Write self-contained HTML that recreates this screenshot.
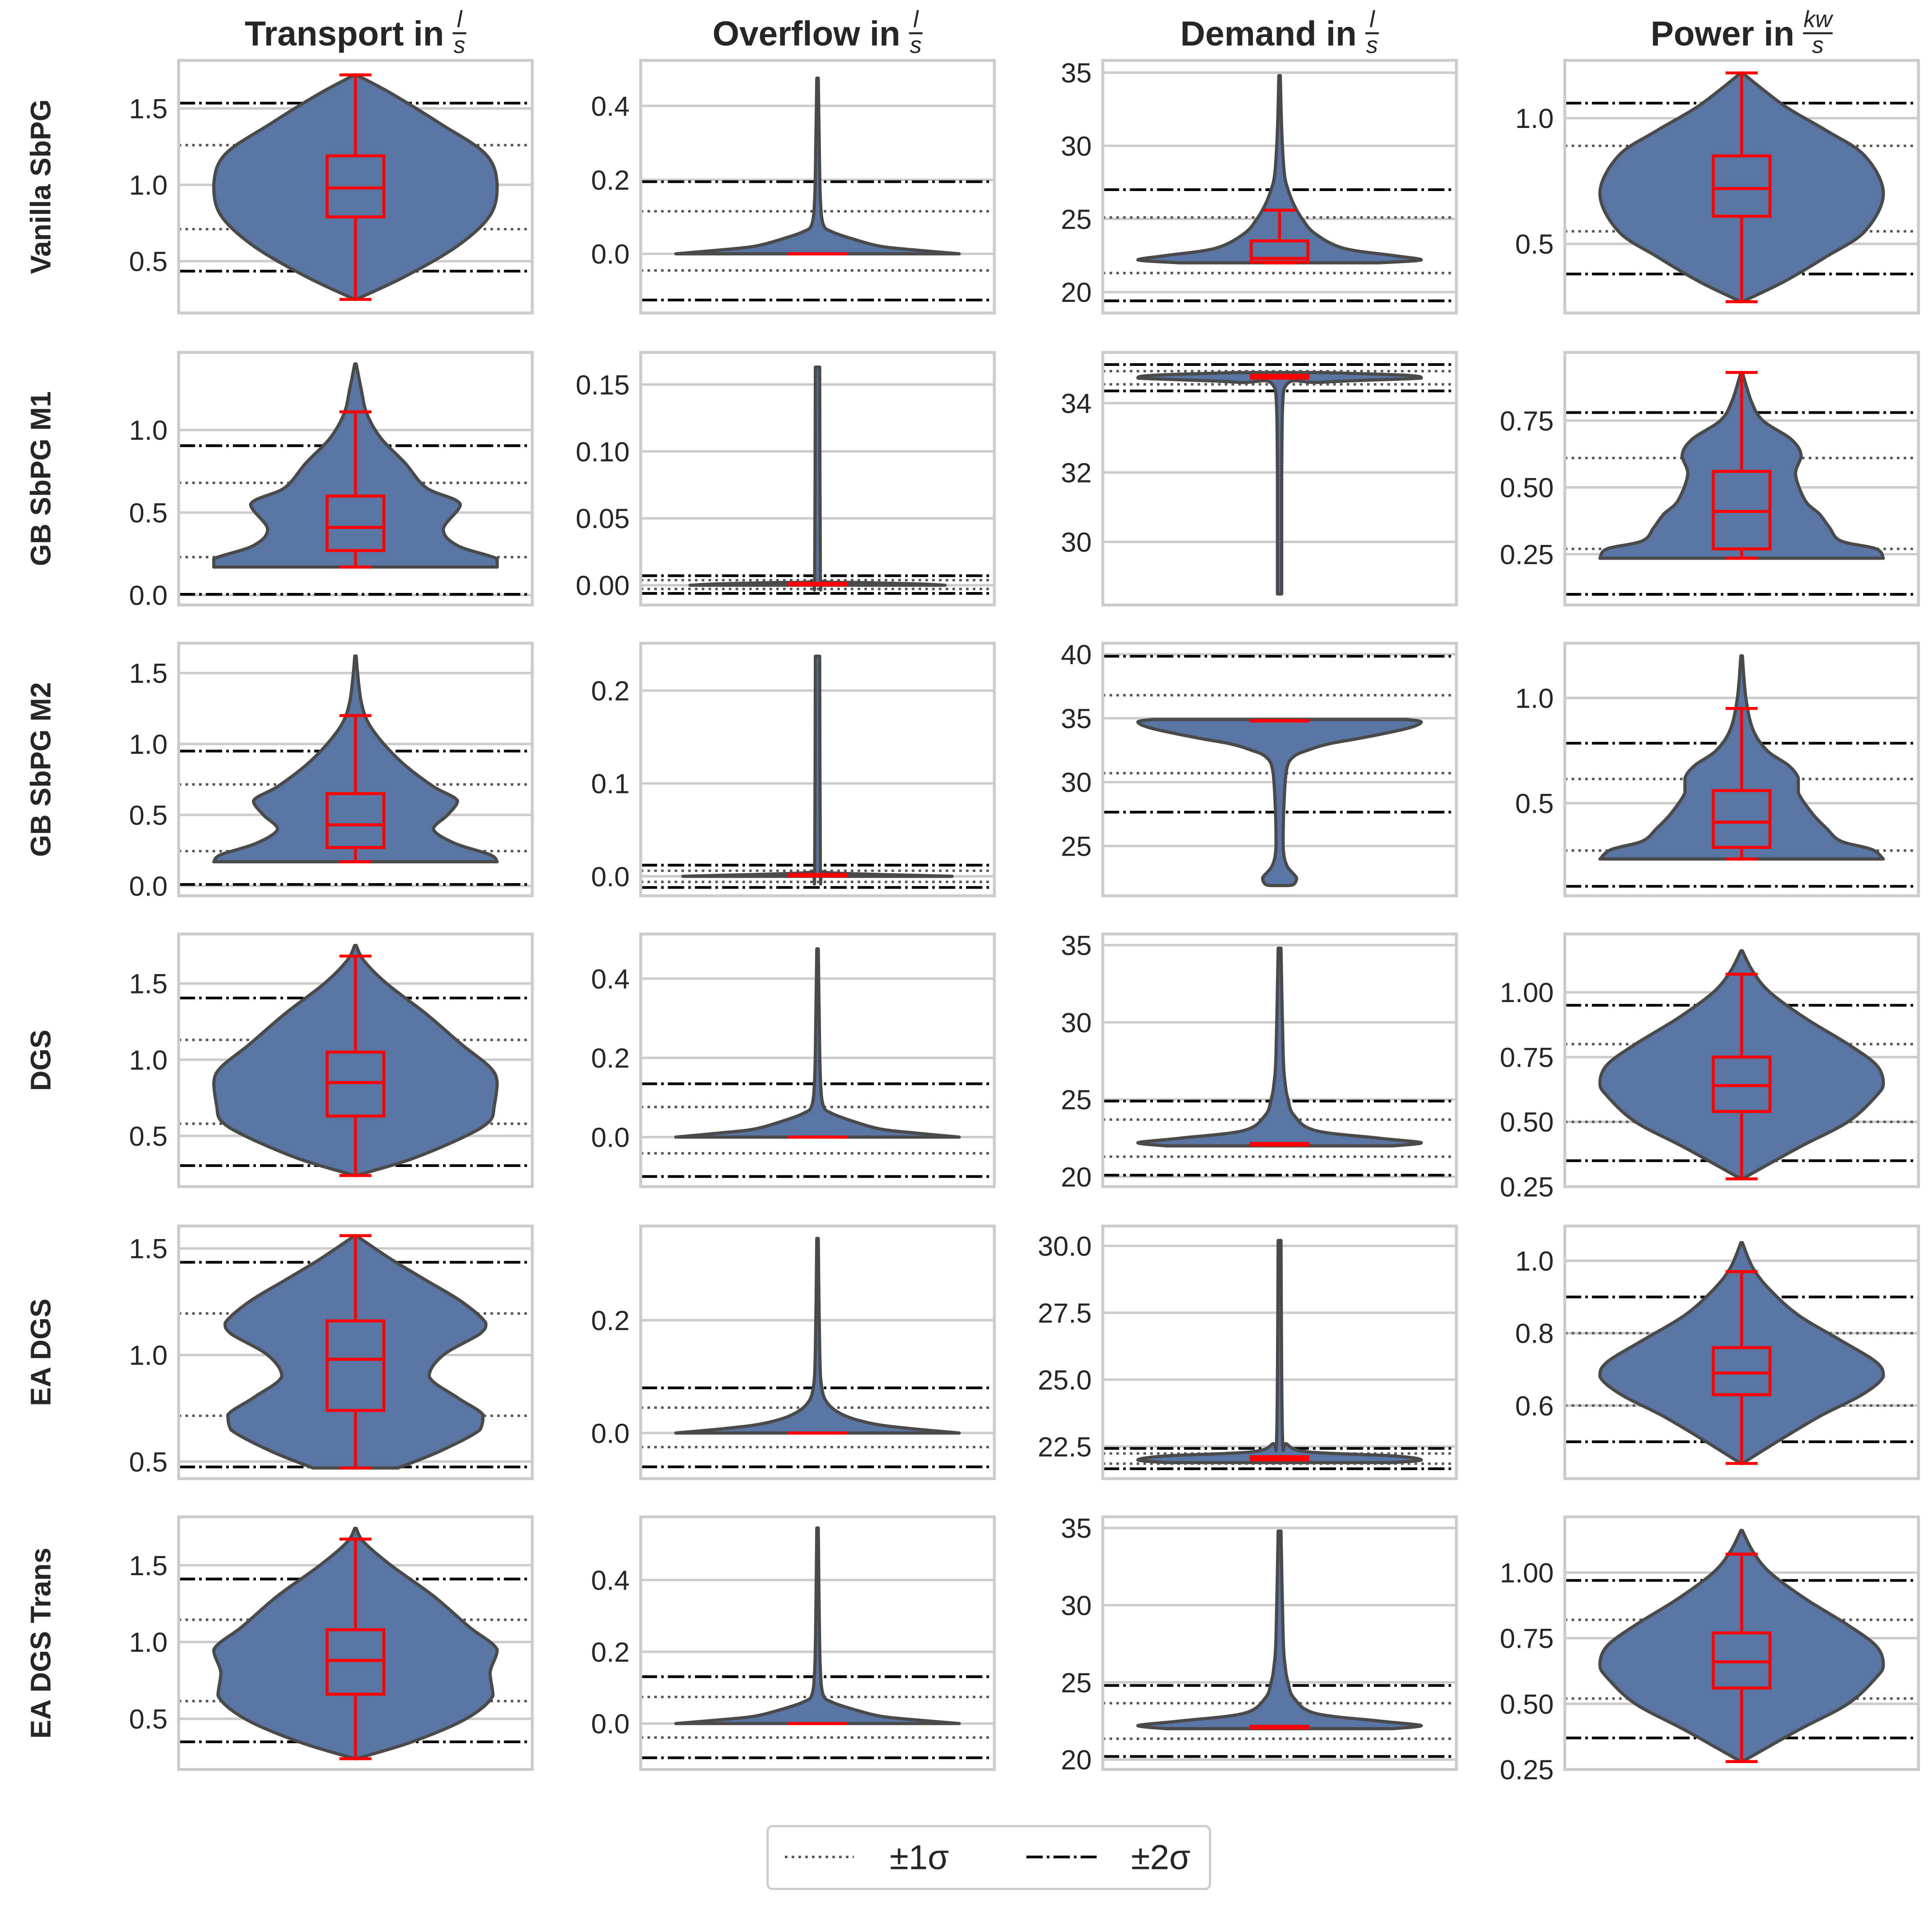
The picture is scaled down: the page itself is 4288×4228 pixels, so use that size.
<!DOCTYPE html>
<html><head><meta charset="utf-8"><style>
html,body{margin:0;padding:0;background:#fff}
svg{display:block}
text{font-family:"Liberation Sans",Arial,sans-serif;fill:#262626}
</style></head><body>
<svg id="fig" xmlns="http://www.w3.org/2000/svg" width="4288" height="4228" viewBox="0 0 1568 1546" preserveAspectRatio="none">
<rect x="0" y="0" width="1568" height="1546" fill="#fff"/>
<g id="panels"></g>
<g id="legend">
<rect x="623" y="1482" width="359" height="51" rx="4" fill="#fff" stroke="#cccccc" stroke-width="1.8"/>
<line x1="637" y1="1507" x2="693" y2="1507" stroke="#555" stroke-width="2" stroke-dasharray="2.1,3.4"/>
<text x="722" y="1517" font-size="28">±1σ</text>
<line x1="833" y1="1507" x2="890" y2="1507" stroke="#000" stroke-width="2.2" stroke-dasharray="13.3,3.3,2.1,3.3"/>
<text x="918" y="1517" font-size="28">±2σ</text>
</g>
</svg>
<script>
const colTitles = ["Transport in", "Overflow in", "Demand in", "Power in"];
const colNumer = ["l", "l", "l", "kw"];
const rowLabels = ["Vanilla SbPG", "GB SbPG M1", "GB SbPG M2", "DGS", "EA DGS", "EA DGS Trans"];
const colLeft = [145, 520, 895, 1270];
const rowTop = [49, 286, 522, 758, 995, 1231];
const PW = 287, PH = 205, MAXHW = 115;

// axis domains [bottom, top] per panel (row-major)
const domains = [
 [0.161,1.815],[-0.16,0.523],[18.57,35.84],[0.225,1.23],
 [-0.06,1.47],[-0.0148,0.174],[28.18,35.46],[0.06,1.005],
 [-0.07,1.71],[-0.021,0.251],[21.1,40.87],[0.06,1.26],
 [0.167,1.825],[-0.125,0.5125],[19.36,35.72],[0.25,1.225],
 [0.42,1.605],[-0.081,0.367],[21.3,30.74],[0.398,1.096],
 [0.17,1.815],[-0.128,0.576],[19.36,35.72],[0.25,1.212]
];
const tickValues = [
 [0.5,1.0,1.5],[0,0.2,0.4],[20,25,30,35],[0.5,1.0],
 [0,0.5,1.0],[0,0.05,0.10,0.15],[30,32,34],[0.25,0.5,0.75],
 [0,0.5,1.0,1.5],[0,0.1,0.2],[25,30,35,40],[0.5,1.0],
 [0.5,1.0,1.5],[0,0.2,0.4],[20,25,30,35],[0.25,0.5,0.75,1.0],
 [0.5,1.0,1.5],[0,0.2],[22.5,25,27.5,30],[0.6,0.8,1.0],
 [0.5,1.0,1.5],[0,0.2,0.4],[20,25,30,35],[0.25,0.5,0.75,1.0]
];
const tickLabels = [
 ["0.5","1.0","1.5"],["0.0","0.2","0.4"],["20","25","30","35"],["0.5","1.0"],
 ["0.0","0.5","1.0"],["0.00","0.05","0.10","0.15"],["30","32","34"],["0.25","0.50","0.75"],
 ["0.0","0.5","1.0","1.5"],["0.0","0.1","0.2"],["25","30","35","40"],["0.5","1.0"],
 ["0.5","1.0","1.5"],["0.0","0.2","0.4"],["20","25","30","35"],["0.25","0.50","0.75","1.00"],
 ["0.5","1.0","1.5"],["0.0","0.2"],["22.5","25.0","27.5","30.0"],["0.6","0.8","1.0"],
 ["0.5","1.0","1.5"],["0.0","0.2","0.4"],["20","25","30","35"],["0.25","0.50","0.75","1.00"]
];
// violin density profile: values and relative half widths
const violinValues = [
 [0.25,0.4,0.6,0.8,1.0,1.2,1.4,1.6,1.72],
 [0,0.01,0.02,0.04,0.06,0.08,0.15,0.3,0.475],
 [22.0,22.2,22.5,23,24,25,26,27,28,30,32,34.8],
 [0.27,0.35,0.45,0.55,0.7,0.85,0.95,1.05,1.18],

 [0.17,0.22,0.3,0.4,0.55,0.65,0.8,0.95,1.1,1.25,1.4],
 [0,0.001,0.002,0.003,0.01,0.163],
 [28.5,30,32,34.4,34.6,34.72,34.8,34.88],
 [0.235,0.27,0.3,0.35,0.4,0.45,0.55,0.62,0.68,0.75,0.82,0.93],

 [0.17,0.22,0.3,0.4,0.5,0.6,0.7,0.85,1.0,1.15,1.3,1.5,1.62],
 [0,0.001,0.003,0.005,0.01,0.237],
 [21.9,22.0,22.5,23.5,25,28,31,32,32.5,33,33.5,34.2,34.7,34.9],
 [0.235,0.28,0.32,0.38,0.45,0.55,0.62,0.68,0.75,0.85,1.0,1.2],

 [0.24,0.35,0.5,0.6,0.7,0.85,0.95,1.1,1.3,1.5,1.65,1.75],
 [0,0.01,0.02,0.04,0.06,0.08,0.15,0.3,0.475],
 [22.0,22.2,22.5,23,24,25,26,28,34.8],
 [0.28,0.4,0.5,0.6,0.65,0.72,0.8,0.9,1.0,1.08,1.16],

 [0.47,0.55,0.65,0.72,0.8,0.9,1.0,1.1,1.15,1.25,1.35,1.45,1.56],
 [0,0.008,0.016,0.03,0.05,0.08,0.15,0.345],
 [21.9,22.0,22.15,22.3,22.6,23,30.2],
 [0.44,0.5,0.57,0.63,0.68,0.72,0.78,0.85,0.92,0.98,1.05],

 [0.24,0.35,0.5,0.65,0.8,0.95,1.1,1.3,1.5,1.65,1.74],
 [0,0.01,0.02,0.04,0.06,0.08,0.15,0.3,0.545],
 [22.0,22.2,22.5,23,24,25,26,28,34.8],
 [0.28,0.4,0.5,0.6,0.65,0.72,0.8,0.9,1.0,1.08,1.16]
];
const violinWidths = [
 [0,0.35,0.72,0.95,1.0,0.92,0.6,0.25,0],
 [1.0,0.7,0.45,0.25,0.1,0.04,0.02,0.012,0.005],
 [0.7,1.0,0.8,0.45,0.25,0.16,0.1,0.06,0.035,0.02,0.012,0.005],
 [0,0.3,0.6,0.87,1.0,0.87,0.6,0.3,0],

 [1.0,1.0,0.72,0.62,0.74,0.5,0.35,0.18,0.08,0.04,0],
 [0.9,0.7,0.3,0.03,0.02,0.015],
 [0.015,0.015,0.015,0.03,0.3,1.0,0.9,0.3],
 [1.0,0.95,0.7,0.62,0.55,0.45,0.38,0.42,0.35,0.15,0.07,0],

 [1.0,0.95,0.7,0.55,0.65,0.72,0.55,0.35,0.2,0.09,0.04,0.015,0],
 [0.95,0.7,0.2,0.03,0.02,0.015],
 [0.06,0.1,0.12,0.05,0.025,0.03,0.05,0.1,0.2,0.35,0.6,0.9,1.0,0.9],
 [1.0,0.92,0.7,0.6,0.5,0.4,0.4,0.33,0.18,0.08,0.03,0],

 [0,0.4,0.78,0.95,0.98,1.0,0.95,0.75,0.5,0.22,0.06,0],
 [1.0,0.7,0.45,0.25,0.1,0.04,0.02,0.012,0.005],
 [0.8,1.0,0.7,0.25,0.1,0.06,0.04,0.025,0.01],
 [0,0.4,0.75,0.95,1.0,0.95,0.75,0.45,0.2,0.08,0],

 [0.3,0.6,0.88,0.9,0.72,0.52,0.62,0.88,0.92,0.75,0.5,0.25,0],
 [1.0,0.65,0.4,0.2,0.08,0.03,0.015,0.005],
 [0.8,1.0,0.8,0.2,0.05,0.02,0.01],
 [0,0.25,0.55,0.85,1.0,0.95,0.7,0.4,0.2,0.08,0],

 [0,0.4,0.78,0.97,0.95,1.0,0.8,0.55,0.25,0.06,0],
 [1.0,0.7,0.45,0.25,0.1,0.04,0.02,0.012,0.005],
 [0.8,1.0,0.7,0.25,0.1,0.06,0.04,0.025,0.01],
 [0,0.4,0.75,0.95,1.0,0.95,0.75,0.45,0.2,0.08,0]
];
// box stats: whisker low, q1, median, q3, whisker high
const boxStats = [
 [0.25,0.79,0.98,1.19,1.72],[0,0,0,0,0],[22.0,22.05,22.3,23.5,25.6],[0.27,0.61,0.72,0.85,1.18],
 [0.17,0.27,0.41,0.6,1.11],[0.0003,0.0003,0.0008,0.0015,0.0015],[34.72,34.72,34.75,34.8,34.8],[0.235,0.27,0.41,0.56,0.93],
 [0.17,0.27,0.43,0.65,1.2],[0.0003,0.0003,0.001,0.002,0.002],[34.78,34.78,34.8,34.82,34.82],[0.235,0.29,0.41,0.56,0.95],
 [0.24,0.63,0.85,1.05,1.68],[0,0,0,0,0],[22.05,22.05,22.1,22.15,22.15],[0.28,0.54,0.64,0.75,1.07],
 [0.47,0.74,0.98,1.16,1.56],[0,0,0,0,0],[22.0,22.0,22.05,22.12,22.12],[0.44,0.63,0.69,0.76,0.97],
 [0.24,0.66,0.88,1.08,1.67],[0,0,0,0,0],[22.05,22.05,22.1,22.15,22.15],[0.28,0.56,0.66,0.77,1.07]
];
const means = [0.985,0.035,23.2,0.72, 0.455,0.0005,34.73,0.44, 0.48,0.0,33.75,0.445, 0.855,0.0175,22.5,0.65, 0.955,0.01,22.05,0.7, 0.88,0.0175,22.5,0.67];
const sds = [0.275,0.08,1.9,0.17, 0.225,0.0033,0.19,0.17, 0.235,0.006,3.05,0.17, 0.275,0.0585,1.2,0.15, 0.24,0.035,0.19,0.1, 0.265,0.0565,1.15,0.15];

const NS = "http://www.w3.org/2000/svg";
const root = document.getElementById('panels');
function mk(tag, attrs, parent){const e=document.createElementNS(NS,tag);for(const k in attrs)e.setAttribute(k,attrs[k]);(parent||root).appendChild(e);return e;}

function spline(pts){
  let d="";
  const n=pts.length;
  for(let i=0;i<n-1;i++){
    const p0=pts[Math.max(0,i-1)],p1=pts[i],p2=pts[i+1],p3=pts[Math.min(n-1,i+2)];
    let c1x=p1[0]+(p2[0]-p0[0])/6, c1y=p1[1]+(p2[1]-p0[1])/6;
    let c2x=p2[0]-(p3[0]-p1[0])/6, c2y=p2[1]-(p3[1]-p1[1])/6;
    const lo=Math.min(p1[0],p2[0]), hi=Math.max(p1[0],p2[0]);
    c1x=Math.min(Math.max(c1x,lo),hi); c2x=Math.min(Math.max(c2x,lo),hi);
    d+=" C"+c1x.toFixed(2)+","+c1y.toFixed(2)+" "+c2x.toFixed(2)+","+c2y.toFixed(2)+" "+p2[0].toFixed(2)+","+p2[1].toFixed(2);
  }
  return d;
}

for(let r=0;r<6;r++){
  const lab=mk('text',{x:0,y:0,'font-size':23,'font-weight':'bold','text-anchor':'middle',transform:'translate(41,'+(rowTop[r]+PH/2)+') rotate(-90)'});
  
  
  lab.textContent=rowLabels[r];
}
for(let c=0;c<4;c++){
  const cx=colLeft[c]+PW/2;
  const g=mk('g',{});
  
  
  const t=mk('text',{x:0,y:37,'font-size':28,'font-weight':'bold'},g);
  t.textContent=colTitles[c];
  const tw=t.getComputedTextLength();
  const fw=colNumer[c].length>1?24:11;
  const start=cx-(tw+7+fw)/2;
  t.setAttribute('x',start);
  const fx=start+tw+7+fw/2;
  const nu=mk('text',{x:fx,y:22,'font-size':19,'font-style':'italic','text-anchor':'middle'},g);
  nu.textContent=colNumer[c];
  mk('line',{x1:fx-fw/2,x2:fx+fw/2,y1:27,y2:27,stroke:'#262626','stroke-width':1.6},g);
  const de=mk('text',{x:fx,y:43,'font-size':19,'font-style':'italic','text-anchor':'middle'},g);
  de.textContent='s';
}

for(let r=0;r<6;r++){
 for(let c=0;c<4;c++){
  const i=r*4+c;
  const L=colLeft[c], T=rowTop[r], cx=L+PW/2;
  const dom=domains[i];
  const y=v=>T+PH-(v-dom[0])/(dom[1]-dom[0])*PH;
  const g=mk('g',{});
  
  
  const clipId='clip'+i;
  const cp=mk('clipPath',{id:clipId},g);
  mk('rect',{x:L,y:T,width:PW,height:PH},cp);
  mk('rect',{x:L,y:T,width:PW,height:PH,fill:'#fff'},g);
  const inner=mk('g',{'clip-path':'url(#'+clipId+')'},g);
  tickValues[i].forEach((tv,k)=>{
    const yy=y(tv);
    const gl=mk('line',{x1:L,x2:L+PW,y1:yy,y2:yy,stroke:'#cccccc','stroke-width':2},inner);
    
    
    const tl=mk('text',{x:L-9,y:yy+8,'font-size':22.5,'text-anchor':'end'},g);
    
    
    tl.textContent=tickLabels[i][k];
  });
  const m=means[i], s=sds[i];
  [[m+s,1],[m-s,1],[m+2*s,2],[m-2*s,2]].forEach(([v,k])=>{
    const yy=y(v);
    const ln=mk('line',{x1:L,x2:L+PW,y1:yy,y2:yy,stroke:k===1?'#555':'#000','stroke-width':k===1?2:2.2,'stroke-dasharray':k===1?'2.1,3.4':'13.3,3.3,2.1,3.3'},inner);
    
    
  });
  const vals=violinValues[i], ws=violinWidths[i];
  const right=vals.map((v,k)=>[cx+Math.max(ws[k]*MAXHW,0.6),y(v)]);
  const left=vals.map((v,k)=>[cx-Math.max(ws[k]*MAXHW,0.6),y(v)]).reverse();
  let d="M"+right[0][0].toFixed(2)+","+right[0][1].toFixed(2)+spline(right);
  d+=" L"+left[0][0].toFixed(2)+","+left[0][1].toFixed(2)+spline(left)+" Z";
  const vp=mk('path',{d:d,fill:'#5975a4',stroke:'#4a4a4a','stroke-width':2.6,'stroke-linejoin':'round'},inner);
  
  
  const b=boxStats[i];
  const bg=mk('g',{stroke:'#ff0000','stroke-width':2.4,fill:'none'},inner);
  
  
  mk('line',{x1:cx,x2:cx,y1:y(b[0]),y2:y(b[1])},bg);
  mk('line',{x1:cx,x2:cx,y1:y(b[3]),y2:y(b[4])},bg);
  mk('line',{x1:cx-13,x2:cx+13,y1:y(b[0]),y2:y(b[0])},bg);
  mk('line',{x1:cx-13,x2:cx+13,y1:y(b[4]),y2:y(b[4])},bg);
  mk('rect',{x:cx-23,y:y(b[3]),width:46,height:Math.max(y(b[1])-y(b[3]),0.01)},bg);
  mk('line',{x1:cx-23,x2:cx+23,y1:y(b[2]),y2:y(b[2])},bg);
  const fr=mk('rect',{x:L,y:T,width:PW,height:PH,fill:'none',stroke:'#cccccc','stroke-width':2.4},g);
  
  
 }
}
</script>
</body></html>
